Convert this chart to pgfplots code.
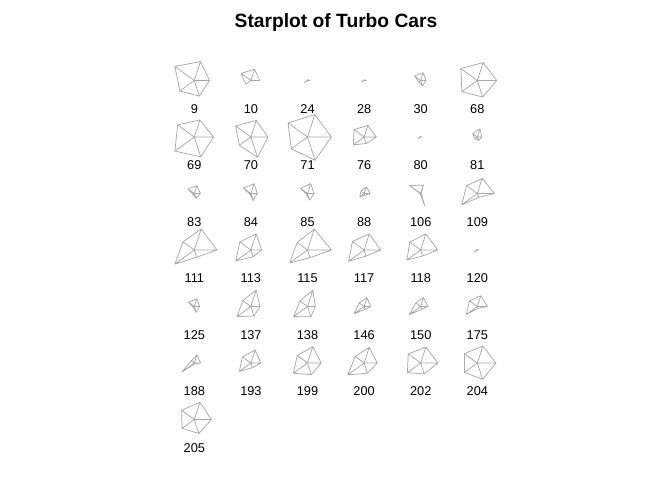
\documentclass[border=0pt]{standalone}
\usepackage{pgfplots}
\usepackage{pgfplotstable}
\pgfplotsset{compat=1.18}
\usepackage{fontspec}
\setmainfont{Liberation Sans}
\definecolor{starline}{RGB}{168,168,168}

% lab col row and the five scaled values (0..1), rays at 0,72,144,216,288 degrees
\pgfplotstableread{
lab col row e ne nw sw se
9   0 0 0.62 0.81 0.98 0.73 0.67
10  1 0 0.36 0.48 0.50 0.25 0.00
24  2 0 0.10 0.03 0.02 0.15 0.00
28  3 0 0.10 0.03 0.02 0.13 0.00
30  4 0 0.22 0.33 0.31 0.10 0.23
68  5 0 0.79 0.77 0.83 0.78 0.71
69  0 1 0.78 0.73 0.84 0.98 0.85
70  1 1 0.70 0.71 0.77 0.58 0.87
71  2 1 0.97 0.96 0.98 0.82 1.00
76  3 1 0.50 0.50 0.51 0.54 0.28
80  4 1 0.05 0.03 0.02 0.15 0.00
81  5 1 0.19 0.35 0.23 0.12 0.15
83  0 2 0.25 0.33 0.32 0.06 0.22
84  1 2 0.26 0.42 0.38 0.05 0.30
85  2 2 0.27 0.42 0.36 0.05 0.28
88  3 2 0.25 0.29 0.16 0.22 0.08
106 4 2 0.02 0.36 0.55 0.02 0.52
109 5 2 0.70 0.65 0.54 0.79 0.17
111 0 3 0.93 0.90 0.57 0.98 0.31
113 1 3 0.44 0.69 0.56 0.76 0.29
115 2 3 0.98 0.90 0.52 0.90 0.33
117 3 3 0.68 0.69 0.59 0.78 0.26
118 4 3 0.69 0.69 0.55 0.70 0.26
120 5 3 0.06 0.03 0.02 0.15 0.00
125 0 4 0.22 0.32 0.30 0.05 0.25
137 1 4 0.37 0.70 0.41 0.70 0.41
138 2 4 0.32 0.70 0.38 0.70 0.44
146 3 4 0.27 0.38 0.25 0.50 0.12
150 4 4 0.29 0.38 0.25 0.57 0.12
175 5 4 0.42 0.46 0.39 0.56 0.08
188 0 5 0.26 0.35 0.15 0.64 0.04
193 1 5 0.40 0.56 0.43 0.58 0.20
199 2 5 0.56 0.70 0.52 0.71 0.50
200 3 5 0.54 0.67 0.45 0.82 0.44
202 4 5 0.70 0.68 0.63 0.67 0.47
204 5 5 0.76 0.73 0.65 0.65 0.70
205 0 6 0.70 0.74 0.64 0.62 0.60
}\stars

\newcommand\getv[2]{\pgfplotstablegetelem{#1}{#2}\of\stars\edef\tmpv{\pgfplotsretval}}

\begin{document}
\begin{tikzpicture}
\begin{axis}[
  width=672bp, height=480bp, scale only axis,
  xmin=0, xmax=672, ymin=0, ymax=480, y dir=reverse,
  hide axis, clip=false,
]
\pgfplotsinvokeforeach{0,...,36}{
  \getv{#1}{lab}\let\lab\tmpv
  \getv{#1}{col}\let\cc\tmpv
  \getv{#1}{row}\let\rr\tmpv
  \getv{#1}{e}\let\va\tmpv
  \getv{#1}{ne}\let\vb\tmpv
  \getv{#1}{nw}\let\vc\tmpv
  \getv{#1}{sw}\let\vd\tmpv
  \getv{#1}{se}\let\ve\tmpv
  \pgfmathsetmacro\cx{194.3+56.6*\cc}
  \pgfmathsetmacro\cy{80.5+56.5*\rr}
  \pgfmathsetmacro\ly{\cy+28.5}
  \pgfmathsetmacro\xa{\cx+24.5*\va*cos(0)}
  \pgfmathsetmacro\ya{\cy-24.5*\va*sin(0)}
  \pgfmathsetmacro\xb{\cx+24.5*\vb*cos(72)}
  \pgfmathsetmacro\yb{\cy-24.5*\vb*sin(72)}
  \pgfmathsetmacro\xc{\cx+24.5*\vc*cos(144)}
  \pgfmathsetmacro\yc{\cy-24.5*\vc*sin(144)}
  \pgfmathsetmacro\xd{\cx+24.5*\vd*cos(216)}
  \pgfmathsetmacro\yd{\cy-24.5*\vd*sin(216)}
  \pgfmathsetmacro\xe{\cx+24.5*\ve*cos(288)}
  \pgfmathsetmacro\ye{\cy-24.5*\ve*sin(288)}
  \edef\tmp{\noexpand\addplot[starline, line width=0.75pt, line join=round, mark=none] coordinates {(\xa,\ya) (\xb,\yb) (\xc,\yc) (\xd,\yd) (\xe,\ye) (\xa,\ya) (\cx,\cy) (\xb,\yb) (\cx,\cy) (\xc,\yc) (\cx,\cy) (\xd,\yd) (\cx,\cy) (\xe,\ye)};}\tmp
  \edef\tmp{\noexpand\node[font=\noexpand\fontsize{12.8}{15}\noexpand\selectfont, anchor=center] at (axis cs:\cx,\ly) {\lab};}\tmp
}
\node[font=\fontsize{19.3}{22}\selectfont\bfseries] at (axis cs:336,22.5) {Starplot of Turbo Cars};
\end{axis}
\path (current axis.south west) rectangle (current axis.north east);
\end{tikzpicture}
\end{document}
